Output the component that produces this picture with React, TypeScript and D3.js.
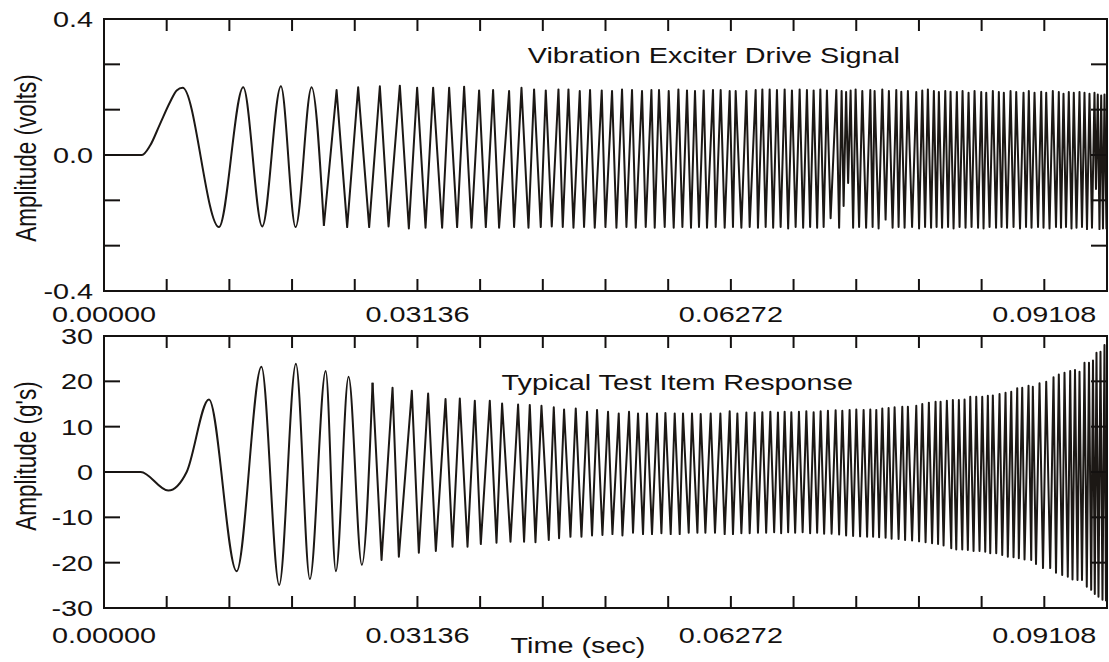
import React from 'react';
import * as d3 from 'd3';

const W = 1109;
const H = 662;

// ---- axis definitions ----
const xTickStep = 0.006272; // seconds between ticks
const xTickCount = 16;
const xLabelValues = [0, 0.03136, 0.06272, 0.09408];
const xLabelTexts = ['0.00000', '0.03136', '0.06272', '0.09108'];

const driveYTicks = [-0.4, -0.26667, -0.13333, 0, 0.13333, 0.26667, 0.4];
const driveYLabelValues = [0.4, 0, -0.4];
const driveYLabelTexts = ['0.4', '0.0', '-0.4'];

const respYTicks = [-30, -20, -10, 0, 10, 20, 30];
const respYLabelValues = [30, 20, 10, 0, -10, -20, -30];
const respYLabelTexts = ['30', '20', '10', '0', '-10', '-20', '-30'];

// ---- drive signal: [time (ms), amplitude (volts)] ----
const driveSignal: [number, number][] = [
  [0, 0], [3.8, 0], [4.6, 0.027], [5.6, 0.091], [6.6, 0.155], [7.27, 0.19],
  [7.87, 0.198], [11.5, -0.212], [13.93, 0.199], [15.83, -0.21], [17.7, 0.202], [19.17, -0.212],
  [20.77, 0.199], [22.0, -0.208], [23.27, 0.191], [24.33, -0.212], [25.43, 0.199], [26.53, -0.212],
  [27.6, 0.202], [28.47, -0.21], [29.6, 0.204], [30.5, -0.216], [31.33, 0.198], [32.17, -0.214],
  [32.93, 0.198], [33.83, -0.214], [34.53, 0.198], [35.33, -0.212], [36.03, 0.201], [36.77, -0.214],
  [37.53, 0.19], [38.2, -0.212], [38.93, 0.191], [39.53, -0.214], [40.53, 0.188], [41.03, -0.212],
  [41.77, 0.198], [42.47, -0.214], [43.03, 0.193], [43.7, -0.212], [44.2, 0.19], [44.8, -0.21],
  [45.47, 0.193], [45.9, -0.212], [46.47, 0.193], [46.97, -0.214], [47.6, 0.188], [48.03, -0.212],
  [48.63, 0.191], [49.1, -0.214], [49.8, 0.19], [50.17, -0.212], [50.83, 0.188], [51.27, -0.214],
  [51.83, 0.193], [52.27, -0.212], [52.83, 0.191], [53.2, -0.214], [53.83, 0.188], [54.2, -0.212],
  [54.77, 0.191], [55.1, -0.214], [55.53, 0.191], [56.1, -0.212], [56.5, 0.188], [57.0, -0.214],
  [57.47, 0.193], [57.87, -0.212], [58.33, 0.19], [58.73, -0.214], [59.13, 0.188], [59.53, -0.212],
  [60.0, 0.19], [60.33, -0.214], [60.93, 0.191], [61.2, -0.212], [61.7, 0.191], [62.1, -0.214],
  [62.6, 0.188], [62.93, -0.212], [63.2, 0.188], [63.77, -0.214], [64.27, 0.188], [64.6, -0.212],
  [65.2, 0.191], [65.43, -0.214], [65.87, 0.193], [66.2, -0.212], [66.6, 0.193], [66.95, -0.214],
  [67.33, 0.191], [67.7, -0.212], [68.1, 0.193], [68.45, -0.216], [68.83, 0.19], [69.2, -0.212],
  [69.6, 0.193], [69.95, -0.214], [70.33, 0.191], [70.65, -0.212], [71.0, 0.19], [71.35, -0.214],
  [71.67, 0.193], [72.0, -0.212], [72.33, 0.19], [72.7, -0.186], [73.27, 0.191], [73.55, -0.214],
  [73.8, 0.188], [74.0, -0.15], [74.25, 0.185], [74.45, -0.082], [74.7, 0.19], [74.95, -0.214],
  [75.2, 0.193], [75.55, -0.212], [75.87, 0.188], [76.25, -0.214], [76.67, 0.191], [76.9, -0.212],
  [77.1, 0.188], [77.5, -0.216], [77.87, 0.193], [78.2, -0.19], [78.53, 0.188], [78.9, -0.214],
  [79.27, 0.191], [79.5, -0.212], [79.77, 0.186], [80.1, -0.214], [80.43, 0.188], [80.85, -0.212],
  [81.27, 0.185], [81.55, -0.216], [81.87, 0.19], [82.15, -0.212], [82.43, 0.193], [82.75, -0.214],
  [83.03, 0.188], [83.3, -0.212], [83.53, 0.185], [83.85, -0.214], [84.17, 0.188], [84.45, -0.212],
  [84.7, 0.186], [85.0, -0.216], [85.33, 0.185], [85.6, -0.212], [85.9, 0.188], [86.2, -0.214],
  [86.5, 0.183], [86.8, -0.212], [87.1, 0.188], [87.45, -0.214], [87.77, 0.185], [88.0, -0.216],
  [88.27, 0.183], [88.6, -0.212], [88.93, 0.188], [89.25, -0.214], [89.53, 0.185], [89.8, -0.212],
  [90.03, 0.183], [90.35, -0.214], [90.7, 0.188], [91.0, -0.212], [91.27, 0.185], [91.65, -0.216],
  [92.0, 0.183], [92.25, -0.212], [92.53, 0.188], [92.8, -0.214], [93.1, 0.183], [93.45, -0.212],
  [93.77, 0.186], [94.0, -0.214], [94.27, 0.183], [94.6, -0.216], [94.93, 0.188], [95.25, -0.212],
  [95.53, 0.185], [95.75, -0.214], [96.0, 0.18], [96.25, -0.212], [96.53, 0.185], [96.8, -0.216],
  [97.03, 0.183], [97.3, -0.214], [97.6, 0.185], [97.85, -0.212], [98.1, 0.183], [98.35, -0.218],
  [98.6, 0.18], [98.85, -0.214], [99.1, 0.183], [99.25, -0.1], [99.43, 0.178], [99.6, -0.218],
  [99.77, 0.175], [99.95, -0.216], [100.1, 0.178], [100.3, -0.218],
];
const driveSmoothUntilMs = 22.0;

// ---- response signal: [time (ms), acceleration (g)] ----
const responseSignal: [number, number][] = [
  [0, 0], [3.67, 0], [6.43, -4.1], [8.27, 0], [10.5, 16.0], [13.27, -21.9],
  [15.75, 23.2], [17.53, -24.9], [19.2, 23.9], [20.6, -23.6], [22.18, 22.3], [23.2, -21.9],
  [24.47, 21.0], [25.8, -20.5], [26.87, 19.7], [27.77, -19.4], [28.87, 18.6], [29.5, -18.7],
  [30.8, 17.9], [31.5, -17.8], [32.43, 17.3], [33.2, -17.4], [34.17, 16.1], [34.87, -16.5],
  [35.6, 16.2], [36.37, -16.5], [37.1, 15.7], [37.7, -15.9], [38.6, 15.7], [39.27, -15.6],
  [39.83, 15.1], [40.67, -15.4], [41.43, 14.9], [42.03, -15.4], [42.6, 14.8], [43.17, -15.5],
  [43.77, 14.6], [44.5, -15.0], [45.0, 14.3], [45.53, -14.6], [46.03, 13.8], [46.67, -14.3],
  [47.2, 14.0], [47.77, -14.3], [48.33, 13.3], [48.83, -14.0], [49.33, 13.7], [49.87, -13.9],
  [50.43, 13.3], [50.87, -13.7], [51.5, 12.9], [51.87, -14.0], [52.53, 13.3], [52.93, -13.4],
  [53.43, 12.9], [53.93, -13.7], [54.33, 12.9], [54.83, -13.7], [55.33, 12.9], [55.77, -13.5],
  [56.17, 13.0], [56.7, -13.7], [57.1, 12.9], [57.6, -13.7], [57.93, 12.9], [58.5, -13.4],
  [58.83, 12.9], [59.37, -13.4], [59.7, 12.8], [60.17, -13.4], [60.7, 12.9], [61.13, -13.4],
  [61.67, 12.9], [62.1, -13.7], [62.6, 13.4], [62.93, -13.7], [63.37, 12.9], [63.77, -13.5],
  [64.27, 13.1], [64.6, -13.5], [65.1, 13.1], [65.43, -13.4], [65.87, 13.2], [66.25, -13.4],
  [66.67, 13.3], [67.05, -13.3], [67.43, 13.1], [67.75, -13.5], [68.1, 13.3], [68.45, -13.3],
  [68.77, 13.2], [69.15, -13.4], [69.53, 13.3], [69.9, -13.3], [70.27, 13.4], [70.65, -13.5],
  [71.0, 13.2], [71.35, -13.4], [71.7, 13.4], [72.05, -13.6], [72.43, 13.5], [72.8, -13.6],
  [73.2, 13.6], [73.55, -13.8], [73.87, 13.5], [74.25, -14.0], [74.6, 13.7], [74.95, -14.1],
  [75.27, 13.8], [75.65, -14.2], [76.0, 13.7], [76.35, -14.3], [76.67, 13.8], [76.95, -14.3],
  [77.27, 13.7], [77.55, -14.4], [77.87, 14.0], [78.2, -14.5], [78.5, 14.1], [78.8, -14.7],
  [79.1, 14.3], [79.5, -14.8], [79.87, 14.4], [80.15, -15.0], [80.43, 14.4], [80.85, -15.1],
  [81.27, 14.6], [81.55, -15.3], [81.87, 15.0], [82.2, -15.5], [82.53, 15.3], [82.85, -15.7],
  [83.2, 15.5], [83.45, -15.9], [83.7, 15.5], [84.0, -16.2], [84.33, 15.7], [84.77, -16.8],
  [84.93, 15.9], [85.27, -17.1], [85.53, 15.9], [85.87, -17.1], [86.1, 16.0], [86.43, -17.2],
  [86.67, 16.6], [87.0, -17.4], [87.27, 16.6], [87.6, -17.4], [87.87, 16.6], [88.17, -17.6],
  [88.43, 16.8], [88.67, -17.9], [88.93, 16.9], [89.27, -17.9], [89.6, 17.2], [89.87, -18.3],
  [90.2, 17.5], [90.43, -18.7], [90.77, 17.7], [91.0, -18.8], [91.37, 18.5], [91.53, -19.0],
  [91.87, 18.6], [92.1, -19.3], [92.5, 19.0], [92.77, -19.4], [92.93, 18.8], [93.25, -20.3],
  [93.6, 19.6], [93.95, -21.2], [94.27, 19.9], [94.67, -21.2], [95.0, 20.9], [95.25, -22.2],
  [95.53, 21.5], [95.87, -22.7], [96.1, 21.9], [96.43, -23.1], [96.67, 22.3], [96.9, -23.7],
  [97.15, 22.5], [97.4, -23.8], [97.6, 22.1], [97.85, -23.8], [98.1, 24.1], [98.33, -25.3],
  [98.55, 24.1], [98.77, -26.0], [98.95, 24.6], [99.13, -26.9], [99.3, 26.3], [99.5, -27.5],
  [99.7, 26.5], [99.9, -28.2], [100.1, 28.0], [100.25, -28.5],
];
const responseSmoothUntilMs = 26.87;

// ---- layout ----
const LEFT = 104;
const RIGHT = 1107;
const FONT = '"Liberation Sans", Arial, Helvetica, sans-serif';
const FS = 22.5;
const SX = 1.28; // horizontal stretch of the original lettering
const INK = '#141110';
const LINE = '#1c1815';

const X_MAX = xTickStep * xTickCount;
const xScale = d3.scaleLinear().domain([0, X_MAX]).range([LEFT, RIGHT]);
const xTicks = d3.range(0, xTickCount + 1).map((i) => i * xTickStep);

function Label(props: { x: number; y: number; anchor?: string; rotate?: boolean; children: React.ReactNode }) {
  const { x, y, anchor = 'start', rotate = false, children } = props;
  return (
    <g transform={`translate(${x},${y}) scale(${SX},1)${rotate ? ' rotate(-90)' : ''}`}>
      <text textAnchor={anchor as any} fontFamily={FONT} fontSize={FS} fill={INK}>
        {children}
      </text>
    </g>
  );
}

interface PanelProps {
  id: string;
  top: number;
  bottom: number;
  yDomain: [number, number];
  yTicks: number[];
  yLabelValues: number[];
  yLabelTexts: string[];
  points: [number, number][];
  smoothUntilMs: number;
  title: string;
  titleRight: number;
  titleBaseline: number;
  yTitle: string;
  yTitleCenter: number;
  xLabelBaseline: number;
}

function Panel(p: PanelProps) {
  const y = d3.scaleLinear().domain(p.yDomain).range([p.bottom, p.top]);
  const smooth = d3
    .line<[number, number]>()
    .x((d) => xScale(d[0] / 1000))
    .y((d) => y(d[1]))
    .curve(d3.curveMonotoneX);
  const straight = d3
    .line<[number, number]>()
    .x((d) => xScale(d[0] / 1000))
    .y((d) => y(d[1]))
    .curve(d3.curveLinear);
  const early = p.points.filter((d) => d[0] <= p.smoothUntilMs);
  const late = p.points.filter((d) => d[0] >= p.smoothUntilMs);
  const clipId = `clip-${p.id}`;
  return (
    <g>
      <defs>
        <clipPath id={clipId}>
          <rect x={LEFT} y={p.top} width={RIGHT - LEFT} height={p.bottom - p.top} />
        </clipPath>
      </defs>
      <g clipPath={`url(#${clipId})`} fill="none" stroke={LINE} strokeWidth={2} strokeLinejoin="round">
        <path d={smooth(early) || ''} />
        <path d={straight(late) || ''} />
      </g>
      <rect x={LEFT} y={p.top} width={RIGHT - LEFT} height={p.bottom - p.top} fill="none" stroke={INK} strokeWidth={2} />
      {xTicks.map((t, i) => (
        <g key={`xt${i}`} stroke={INK} strokeWidth={2}>
          <line x1={xScale(t)} x2={xScale(t)} y1={p.top} y2={p.top + 12} />
          <line x1={xScale(t)} x2={xScale(t)} y1={p.bottom} y2={p.bottom - 12} />
        </g>
      ))}
      {p.yTicks.map((v, i) => (
        <g key={`yt${i}`} stroke={INK} strokeWidth={2}>
          <line x1={LEFT} x2={LEFT + 16} y1={y(v)} y2={y(v)} />
          <line x1={RIGHT} x2={RIGHT - 16} y1={y(v)} y2={y(v)} />
        </g>
      ))}
      {p.yLabelValues.map((v, i) => (
        <Label key={`yl${i}`} x={93} y={y(v) + 8} anchor="end">
          {p.yLabelTexts[i]}
        </Label>
      ))}
      {xLabelValues.map((v, i) => (
        <Label key={`xl${i}`} x={xScale(v)} y={p.xLabelBaseline} anchor="middle">
          {xLabelTexts[i]}
        </Label>
      ))}
      <Label x={p.titleRight} y={p.titleBaseline} anchor="end">
        {p.title}
      </Label>
      <Label x={36} y={p.yTitleCenter} anchor="middle" rotate>
        {p.yTitle}
      </Label>
    </g>
  );
}

export default function App() {
  return (
    <svg
      width={W}
      height={H}
      viewBox={`0 0 ${W} ${H}`}
      style={{ position: 'absolute', left: 0, top: 0, background: '#fff' }}
    >
      <rect x={0} y={0} width={W} height={H} fill="#fff" />
      <Panel
        id="drive"
        top={19}
        bottom={291}
        yDomain={[-0.4, 0.4]}
        yTicks={driveYTicks}
        yLabelValues={driveYLabelValues}
        yLabelTexts={driveYLabelTexts}
        points={driveSignal}
        smoothUntilMs={driveSmoothUntilMs}
        title="Vibration Exciter Drive Signal"
        titleRight={900}
        titleBaseline={63}
        yTitle="Amplitude (volts)"
        yTitleCenter={158}
        xLabelBaseline={322}
      />
      <Panel
        id="response"
        top={336}
        bottom={608}
        yDomain={[-30, 30]}
        yTicks={respYTicks}
        yLabelValues={respYLabelValues}
        yLabelTexts={respYLabelTexts}
        points={responseSignal}
        smoothUntilMs={responseSmoothUntilMs}
        title="Typical Test Item Response"
        titleRight={853}
        titleBaseline={390}
        yTitle="Amplitude (g's)"
        yTitleCenter={456}
        xLabelBaseline={643}
      />
      <Label x={578} y={653} anchor="middle">
        Time (sec)
      </Label>
    </svg>
  );
}
